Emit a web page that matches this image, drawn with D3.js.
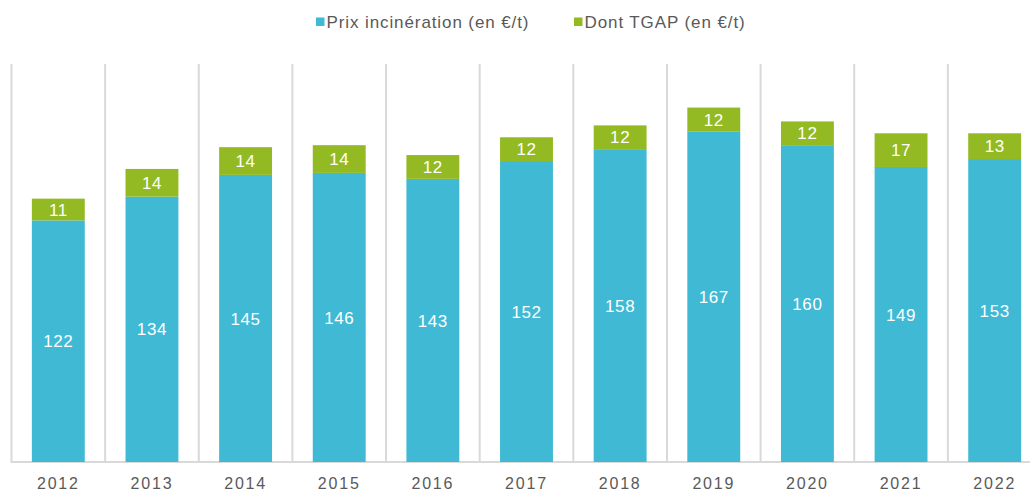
<!DOCTYPE html>
<html>
<head>
<meta charset="utf-8">
<script src="https://cdn.jsdelivr.net/npm/d3@7"></script>
<style>
html,body{margin:0;padding:0;background:#fff;}
svg{display:block;font-family:"Liberation Sans",Arial,sans-serif;}
</style>
</head>
<body>
<svg id="chart" width="1030" height="492"></svg>
<script>
const years = ["2012","2013","2014","2015","2016","2017","2018","2019","2020","2021","2022"];
const prixIncineration = [122,134,145,146,143,152,158,167,160,149,153];
const dontTGAP = [11,14,14,14,12,12,12,12,12,17,13];
const seriesNames = ["Prix incinération (en €/t)","Dont TGAP (en €/t)"];
const seriesColors = ["#40b9d4","#93ba22"];

const svg = d3.select("#chart");
const x0 = 11.5, x1 = 1041.5, yTop = 64, yBase = 462;

const x = d3.scaleBand().domain(years).range([x0, x1]).paddingInner(0.435).paddingOuter(0.2175);
const y = d3.scaleLinear().domain([0, 201]).range([yBase, yTop]);

const rows = years.map((yr,i)=>({year:yr, prix:prixIncineration[i], tgap:dontTGAP[i]}));
const stack = d3.stack().keys(["prix","tgap"])(rows);

// vertical separators
const step = x.step();
const sepPos = d3.range(years.length + 1).map(i => x0 + i*step);
svg.append("g").selectAll("line").data(sepPos).join("line")
  .attr("x1", d=>d).attr("x2", d=>d)
  .attr("y1", yTop).attr("y2", yBase)
  .attr("stroke", "#d9d9d9").attr("stroke-width", 2);

// baseline
svg.append("line").attr("x1", x0-1).attr("x2", 1030).attr("y1", yBase).attr("y2", yBase)
  .attr("stroke", "#d9d9d9").attr("stroke-width", 2);

// bars
const g = svg.append("g");
stack.forEach((s, si) => {
  g.append("g").selectAll("rect").data(s).join("rect")
    .attr("x", d => x(d.data.year))
    .attr("width", x.bandwidth())
    .attr("y", d => y(d[1]))
    .attr("height", d => y(d[0]) - y(d[1]))
    .attr("fill", seriesColors[si]);
  g.append("g").selectAll("text").data(s).join("text")
    .attr("x", d => x(d.data.year) + x.bandwidth()/2)
    .attr("y", d => (y(d[0]) + y(d[1]))/2)
    .attr("dy", "0.36em")
    .attr("text-anchor", "middle")
    .attr("fill", "#ffffff")
    .attr("font-size", 17)
    .attr("letter-spacing", 0.6)
    .text(d => d[1] - d[0]);
});

// x axis labels
const xAxis = d3.axisBottom(x).tickSize(0).tickPadding(0);
const ax = svg.append("g").attr("transform", `translate(0,${yBase})`).call(xAxis);
ax.select(".domain").remove();
ax.selectAll("text")
  .attr("y", 21).attr("dy", "0.36em")
  .attr("font-size", 16)
  .attr("font-family", "Liberation Sans, Arial, sans-serif")
  .attr("letter-spacing", 1.8)
  .attr("fill", "#595959");

// legend
const legendItems = [{name:seriesNames[0], color:seriesColors[0], x:316},{name:seriesNames[1], color:seriesColors[1], x:574}];
const lg = svg.append("g");
legendItems.forEach(it => {
  lg.append("rect").attr("x", it.x).attr("y", 17.5).attr("width", 8.5).attr("height", 8.5).attr("fill", it.color);
  lg.append("text").attr("x", it.x + 10.5).attr("y", 22).attr("dy","0.36em")
    .attr("font-size", 17).attr("letter-spacing", 0.9).attr("fill", "#595959").text(it.name);
});
</script>
</body>
</html>
